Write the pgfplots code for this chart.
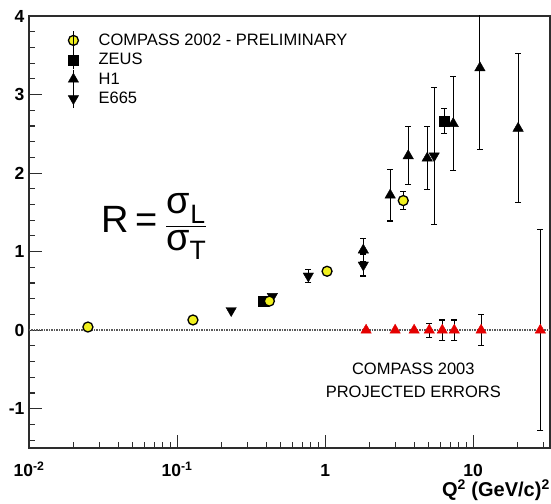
\documentclass[border=0pt]{standalone}
\usepackage{pgfplots}
\pgfplotsset{compat=1.18}
\usepackage{amsmath}
\usepackage{fontspec}
\setmainfont{Liberation Sans}
\definecolor{cyel}{RGB}{240,240,30}
\definecolor{cred}{RGB}{228,0,0}
\definecolor{framec}{RGB}{45,45,45}

\begin{document}
\begin{tikzpicture}
\begin{axis}[
  name=ax,
  scale only axis, width=521pt, height=432pt,
  xmode=log, xmin=0.01, xmax=33,
  ymin=-1.5, ymax=4,
  axis line style={framec, line width=1.2pt},
  xtick={0.01,0.1,1,10},
  xticklabels={10\textsuperscript{-2},10\textsuperscript{-1},1,10},
  minor xtick={0.02,0.03,0.04,0.05,0.06,0.07,0.08,0.09,
               0.2,0.3,0.4,0.5,0.6,0.7,0.8,0.9,
               2,3,4,5,6,7,8,9,20,30},
  ytick={-1,0,1,2,3,4},
  yticklabels={-1,0,1,2,3,4},
  minor ytick={-1.4,-1.2,-0.8,-0.6,-0.4,-0.2,0.2,0.4,0.6,0.8,
               1.2,1.4,1.6,1.8,2.2,2.4,2.6,2.8,3.2,3.4,3.6,3.8},
  tick pos=left,
  major tick length=13pt, minor tick length=6pt,
  every tick/.style={framec, line width=1.1pt},
  ticklabel style={font=\fontsize{17.5}{20}\selectfont\bfseries},
  xticklabel style={anchor=base, yshift=-29pt},
  yticklabel style={xshift=-1pt},
  xlabel={Q\textsuperscript{2} (GeV/c)\textsuperscript{2}},
  xlabel style={at={(axis description cs:1,0)}, anchor=base east,
    yshift=-49pt, inner sep=0pt, font=\fontsize{20}{24}\selectfont\bfseries},
  legend style={at={(axis description cs:0.0749,0.9664)}, anchor=north west,
    draw=none, fill=none, inner sep=0pt, row sep=0pt, column sep=20pt,
    font=\fontsize{16.5}{19}\selectfont,
    nodes={inner sep=0pt}},
  legend cell align=left,
  legend image code/.code={%
    \draw[#1] plot coordinates {(0pt,0pt)};
    \path (0pt,-9.5pt) -- (0pt,9.5pt);},
  error bars/error bar style={black, line width=1.1pt},
  error bars/error mark options={rotate=90, mark size=3pt, black, line width=1.1pt},
]
\coordinate (sw) at (rel axis cs:0,0);
\coordinate (ne) at (rel axis cs:1,1);

% legend images
\addlegendimage{only marks, mark=*, mark size=5pt,
  mark options={fill=cyel, draw=black, line width=1.3pt}}
\addlegendentry{COMPASS 2002 - PRELIMINARY}
\addlegendimage{only marks, mark=square*, mark size=5pt, black}
\addlegendentry{ZEUS}
\addlegendimage{only marks, mark=triangle*, mark size=6pt, black}
\addlegendentry{H1}
\addlegendimage{only marks, mark=triangle*, mark size=6pt, black,
  mark options={rotate=180}}
\addlegendentry{E665}

% R = 0 reference line
\addplot[forget plot, gray!70!black, line width=1.5pt, densely dotted]
  coordinates {(0.01,0) (33,0)};

% COMPASS 2003 projected errors
\addplot[forget plot, only marks, mark=triangle*, mark size=6pt, cred,
  mark options={draw=cred, fill=cred},
  error bars/.cd, y dir=both, y explicit]
  coordinates {
    (1.89,0) (2.97,0) (3.99,0)
    (5.05,0) +- (0,0.09)
    (6.18,0) +- (0,0.13)
    (7.45,0) +- (0,0.13)
    (11.3,0) +- (0,0.20)
    (28.4,0) +- (0,1.28)
  };

% H1
\addplot[forget plot, only marks, mark=triangle*, mark size=6pt, black,
  error bars/.cd, y dir=both, y explicit]
  coordinates {
    (1.81,1.02) +- (0,0.15)
    (2.75,1.72) +- (0,0.33)
    (3.64,2.22) +- (0,0.37)
    (4.89,2.19) +- (0,0.40)
    (7.33,2.63) +- (0,0.60)
    (11.1,3.34) +- (0,1.04)
    (20.1,2.57) +- (0,0.95)
  };

% E665
\addplot[forget plot, only marks, mark=triangle*, mark size=6pt, black,
  mark options={rotate=180},
  error bars/.cd, y dir=both, y explicit]
  coordinates {
    (0.232,0.25) +- (0,0)
    (0.44,0.43) +- (0,0)
    (0.77,0.69) +- (0,0.08)
    (1.81,0.83) +- (0,0.14)
    (5.45,2.22) +- (0,0.87)
  };

% ZEUS
\addplot[forget plot, only marks, mark=square*, mark size=5pt, black,
  error bars/.cd, y dir=both, y explicit]
  coordinates {
    (0.38,0.37) +- (0,0)
    (6.37,2.66) +- (0,0.16)
  };

% COMPASS 2002 preliminary
\addplot[forget plot, only marks, mark=*, mark size=5pt,
  mark options={fill=cyel, draw=black, line width=1.3pt},
  error bars/.cd, y dir=both, y explicit]
  coordinates {
    (0.025,0.04) +- (0,0)
    (0.128,0.13) +- (0,0)
    (0.42,0.37) +- (0,0)
    (1.03,0.75) +- (0,0)
    (3.37,1.65) +- (0,0.11)
  };

\node[font=\fontsize{38}{42}\selectfont] at (axis cs:0.0705,1.32)
  {$\text{R} \mathrel{\text{=}} \dfrac{\text{σ}_{\text{L}}}{\text{σ}_{\text{T}}}$};
\node[align=center, font=\fontsize{16.5}{23}\selectfont] at (axis cs:3.94,-0.64)
  {COMPASS 2003\\PROJECTED ERRORS};
\end{axis}
\pgfresetboundingbox
\path ([xshift=-29pt,yshift=-56pt]sw) rectangle ([xshift=1pt,yshift=16pt]ne);
\end{tikzpicture}
\end{document}
